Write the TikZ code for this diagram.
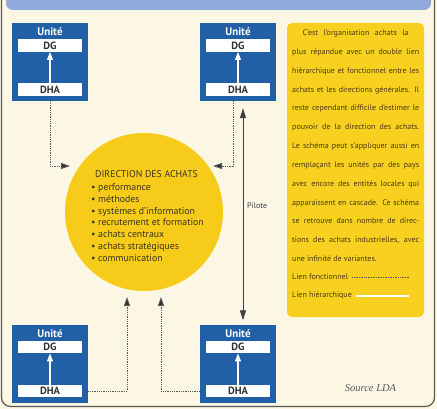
\documentclass[tikz,border=0pt]{standalone}
\usepackage{fontspec}
\setmainfont{PT Sans}
\newfontfamily\srcfont{Liberation Serif}
\usetikzlibrary{arrows.meta}
\definecolor{bg}{HTML}{FBF7E4}
\definecolor{headblue}{HTML}{8FAADB}
\definecolor{framec}{HTML}{5A5A55}
\definecolor{unitblue}{HTML}{2160A6}
\definecolor{innertext}{HTML}{333333}
\definecolor{cyel}{HTML}{F6CB1A}
\definecolor{boxyel}{HTML}{F8D020}
\definecolor{ctext}{HTML}{3B3520}
\definecolor{btext}{HTML}{4A3A12}
\definecolor{linec}{HTML}{5A5A5A}
\tikzset{
  unitbox/.style={fill=unitblue, minimum width=76pt, minimum height=78pt, inner sep=0pt},
  unitlbl/.style={text=white, font=\bfseries\fontsize{11}{12}\selectfont, inner sep=0pt},
  innerbox/.style={fill=white, minimum width=64pt, minimum height=12.5pt, inner sep=0pt, text=innertext, font=\bfseries\fontsize{10.5}{12}\selectfont},
  hier/.style={draw=white, line width=1.2pt, -{Triangle[length=8pt,width=6pt]}},
  func/.style={draw=linec, line width=0.8pt, densely dotted, -{Triangle[length=9pt,width=6pt,fill=black!80]}},
  pilot/.style={draw=black!75, line width=0.8pt, {Triangle[length=10pt,width=6pt]}-{Triangle[length=10pt,width=6pt]}},
}
\newcommand\myunit[3]{%
  \node[unitbox] (#1) at (#2,#3) {};
  \node[unitlbl] (#1-t) at (#2,#3-30) {Unité};
  \node[innerbox] (#1-dg) at (#2,#3-16.5) {DG};
  \node[innerbox] (#1-dha) at (#2,#3+27.5) {DHA};
  \draw[hier] (#1-dha.north) -- (#1-dg.south);
}
\newcommand\jl[1]{\hbox to 127pt{#1}}
\begin{document}
\begin{tikzpicture}[x=1pt,y=-1pt]
\useasboundingbox (0,0) rectangle (437,409);
\fill[bg] (0,0) rectangle (437,409);
\begin{scope}
  \clip (0,0) rectangle (437,409);
  \fill[headblue, rounded corners=7pt] (6,-12) rectangle (431,10);
  \draw[framec, line width=1.2pt, rounded corners=9pt] (1.5,-20) rectangle (434.5,406.5);
\end{scope}

% units
\myunit{u1}{50}{62}
\myunit{u2}{238}{62}
\myunit{u3}{50}{363.5}
\myunit{u4}{238}{363.5}

% central circle
\node[circle, fill=cyel, minimum size=158pt, inner sep=0pt] (dir) at (144,212) {};
\node[anchor=base west, inner sep=0pt, text=ctext] (dirtxt) at (91,177.5)
 {\parbox[t]{130pt}{\fontsize{9.8}{11.85}\selectfont
  \hbox{\hspace*{4pt}DIRECTION DES ACHATS}\par\vspace{1pt}
  \hbox{• performance}\par
  \hbox{• méthodes}\par
  \hbox{• systèmes d'information}\par
  \hbox{• recrutement et formation}\par
  \hbox{• achats centraux}\par
  \hbox{• achats stratégiques}\par
  \hbox{• communication}}};

% text panel
\node[fill=boxyel, rounded corners=5pt, minimum width=137pt, minimum height=294pt, inner sep=0pt] (panel) at (355.5,170) {};
\node[anchor=base west, inner sep=0pt, text=btext] (ptxt) at (292,35.5)
 {\parbox[t]{127pt}{\fontsize{8}{18.85}\selectfont
  \jl{\hfil\hbox to 106pt{C'est l'organisation achats la}\hfil}\par
  \jl{plus répandue avec un double lien}\par
  \jl{hiérarchique et fonctionnel entre les}\par
  \jl{achats et les directions générales. Il}\par
  \jl{reste cependant difficile d'estimer le}\par
  \jl{pouvoir de la direction des achats.}\par
  \jl{Le schéma peut s'appliquer aussi en}\par
  \jl{remplaçant les unités par des pays}\par
  \jl{avec encore des entités locales qui}\par
  \jl{apparaissent en cascade. Ce schéma}\par
  \jl{se retrouve dans nombre de direc-}\par
  \jl{tions des achats industrielles, avec}\par
  \hbox{une infinité de variantes.}}};
\node[anchor=base west, inner sep=0pt, text=btext, font=\fontsize{8}{9}\selectfont] (lf) at (292,279.5) {Lien fonctionnel};
\node[anchor=base west, inner sep=0pt, text=btext, font=\fontsize{8}{9}\selectfont] (lh) at (292,297.5) {Lien hiérarchique};
\coordinate (lfend) at (409,277);
\coordinate (lhend) at (409,296);
\draw[draw=linec, line width=0.7pt, densely dotted] ([xshift=4pt]lf.east |- lfend) -- (lfend);
\draw[draw=white, line width=1.3pt] ([xshift=4pt]lh.east |- lhend) -- (lhend);

% functional links
\coordinate (c1) at (70,166);
\coordinate (c2) at (213,166);
\coordinate (c3) at (127,297);
\coordinate (c4) at (161,297);
\draw[func] (u1.south) |- (c1);
\draw[func] ([xshift=-5pt]u2.south) |- (c2);
\draw[func] (u3.east |- u3-dha) -| (c3);
\draw[func] (u4.west |- u4-dha) -| (c4);

% pilot link
\draw[pilot, shorten <=7pt, shorten >=4pt] ([xshift=5pt]u2.south) -- ([xshift=5pt]u4.north);
\node[anchor=west, inner sep=0pt, text=black!75, font=\fontsize{8}{9}\selectfont] (pil) at (247,206) {Pilote};

% source
\node[inner sep=0pt, text=black!65, font=\srcfont\itshape\fontsize{10.5}{12}\selectfont] (src) at (370.5,388) {Source LDA};
\end{tikzpicture}
\end{document}
